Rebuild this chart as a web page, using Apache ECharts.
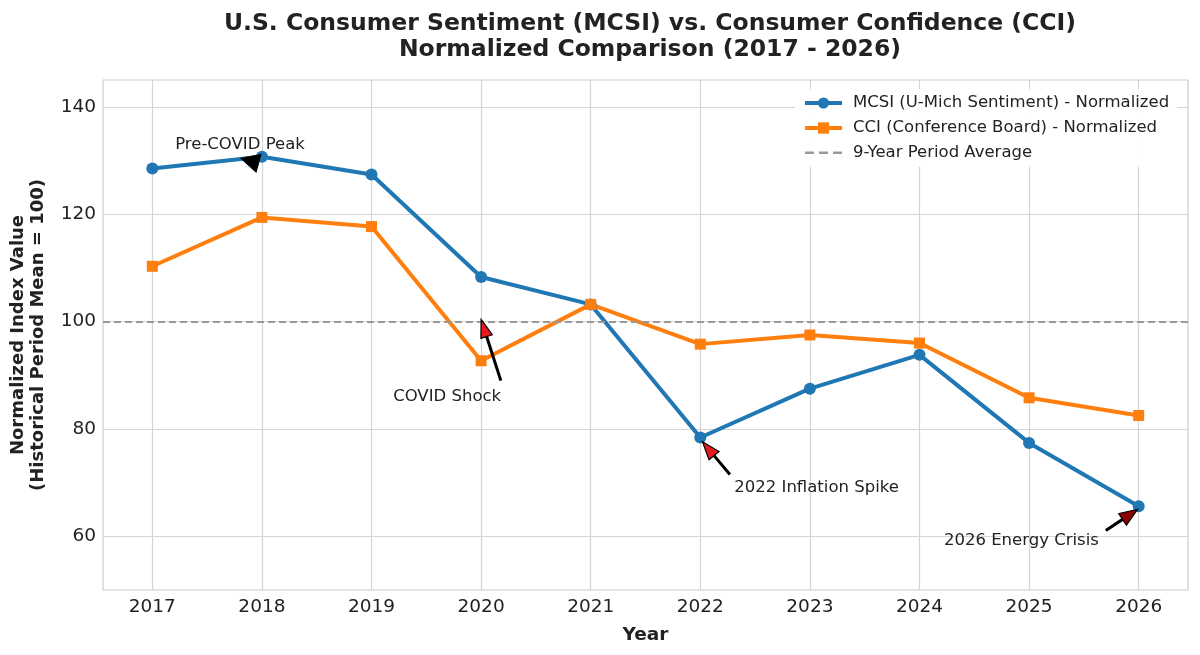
<!DOCTYPE html>
<html>
<head>
<meta charset="utf-8">
<script src="https://cdn.jsdelivr.net/npm/echarts@6/dist/echarts.min.js"></script>
<style>
  html, body { margin: 0; padding: 0; background: #fff; }
  #main { width: 1200px; height: 655px; }
</style>
</head>
<body>
<div id="main"></div>
<script>
// data
var years = [2017, 2018, 2019, 2020, 2021, 2022, 2023, 2024, 2025, 2026];
var mcsi = [128.5, 130.7, 127.4, 108.3, 103.2, 78.4, 87.5, 93.8, 77.4, 65.6];
var cci = [110.3, 119.4, 117.7, 92.7, 103.2, 95.8, 97.5, 96.0, 85.8, 82.5];
var periodAvg = 100;
var yTicks = [60, 80, 100, 120, 140];

// annotations: text pos, arrow tail, arrow tip (data coords), head colour
var notes = [
  {text: 'Pre-COVID Peak', tx: 2017.80, ty: 132.9, align: 'center', x0: 2017.97, y0: 129.5, x1: 2017.81, y1: 130.4, head: '#000000', hw: 9},
  {text: 'COVID Shock', tx: 2019.69, ty: 86.0, align: 'center', x0: 2020.18, y0: 89.0, x1: 2020.0, y1: 100.4, head: '#e41a1c', hw: 6},
  {text: '2022 Inflation Spike', tx: 2022.31, ty: 69.0, align: 'left', x0: 2022.27, y0: 71.5, x1: 2022.02, y1: 77.6, head: '#e41a1c', hw: 6.5},
  {text: '2026 Energy Crisis', tx: 2024.93, ty: 59.1, align: 'center', x0: 2025.70, y0: 61.1, x1: 2025.99, y1: 65.0, head: '#8b0000', hw: 7}
];

var font = 'DejaVu Sans';
var chart = echarts.init(document.getElementById('main'));

function pairs(vals) {
  return years.map(function (y, i) { return [y, vals[i]]; });
}

function drawNote(params, api) {
  var n = notes[params.dataIndex];
  var a = api.coord([n.x0, n.y0]);
  var b = api.coord([n.x1, n.y1]);
  var t = api.coord([n.tx, n.ty]);
  var dx = b[0] - a[0], dy = b[1] - a[1];
  var len = Math.sqrt(dx * dx + dy * dy);
  var ux = dx / len, uy = dy / len;
  var hl = 18, hw = n.hw;
  var bx = b[0] - ux * hl, by = b[1] - uy * hl;
  var head = [
    [b[0], b[1]],
    [bx - uy * hw, by + ux * hw],
    [bx + uy * hw, by - ux * hw]
  ];
  var kids = [];
  if (len > hl) {
    kids.push({type: 'line', shape: {x1: a[0], y1: a[1], x2: bx, y2: by},
      style: {stroke: '#000', lineWidth: 3}});
  }
  kids.push({type: 'polygon', shape: {points: head},
    style: {fill: n.head, stroke: '#000', lineWidth: 1.2}});
  kids.push({type: 'text', x: t[0], y: t[1],
    style: {text: n.text, fill: '#222', font: '16.5px "DejaVu Sans"',
      textAlign: n.align, textVerticalAlign: 'middle'}});
  return {type: 'group', children: kids};
}

chart.setOption({
  animation: false,
  backgroundColor: '#fff',
  textStyle: {fontFamily: font},
  title: {
    text: 'U.S. Consumer Sentiment (MCSI) vs. Consumer Confidence (CCI)\nNormalized Comparison (2017 - 2026)',
    left: 645, top: 6, textAlign: 'center',
    textStyle: {fontFamily: font, fontSize: 23.5, fontWeight: 'bold', color: '#222', lineHeight: 26}
  },
  legend: {
    left: 795, top: 89, orient: 'vertical', itemGap: 5,
    itemWidth: 37, itemHeight: 14,
    backgroundColor: 'rgba(255,255,255,0.92)', borderWidth: 0,
    padding: [4, 8, 4, 8],
    lineStyle: {width: 4},
    textStyle: {fontFamily: font, fontSize: 16.5, color: '#222', lineHeight: 20, padding: [0, 0, 0, 6]},
    data: [
      'MCSI (U-Mich Sentiment) - Normalized',
      'CCI (Conference Board) - Normalized',
      {name: '9-Year Period Average', icon: 'path://M0,5.6h9v2.4h-9z M14,5.6h9v2.4h-9z M28,5.6h9v2.4h-9z M0,0h0.01v14h-0.01z'}
    ]
  },
  grid: {left: 103, right: 12, top: 80, bottom: 65, containLabel: false,
    show: true, borderColor: '#cccccc', borderWidth: 1.2},
  xAxis: {
    type: 'value', min: 2016.55, max: 2026.45,
    name: 'Year', nameLocation: 'middle', nameGap: 36,
    nameTextStyle: {fontFamily: font, fontSize: 18.5, fontWeight: 'bold', color: '#222'},
    axisLine: {show: false},
    axisTick: {show: false, customValues: years},
    axisLabel: {customValues: years, fontSize: 18.5, color: '#222', margin: 8,
      formatter: function (v) { return String(Math.round(v)); }},
    splitLine: {show: true, lineStyle: {color: '#d5d5d5', width: 1.2}}
  },
  yAxis: {
    type: 'value', min: 50, max: 145,
    name: 'Normalized Index Value\n(Historical Period Mean = 100)',
    nameLocation: 'middle', nameGap: 55, nameRotate: 90,
    nameTextStyle: {fontFamily: font, fontSize: 18, fontWeight: 'bold', color: '#222', lineHeight: 20},
    axisLine: {show: false},
    axisTick: {show: false, customValues: yTicks},
    axisLabel: {customValues: yTicks, fontSize: 18.5, color: '#222', margin: 7},
    splitLine: {show: true, lineStyle: {color: '#d5d5d5', width: 1.2}}
  },
  series: [
    {
      name: 'MCSI (U-Mich Sentiment) - Normalized', type: 'line', data: pairs(mcsi),
      color: '#1f77b4', symbol: 'circle', symbolSize: 12,
      lineStyle: {width: 4}, z: 3
    },
    {
      name: 'CCI (Conference Board) - Normalized', type: 'line', data: pairs(cci),
      color: '#ff7f0e', symbol: 'rect', symbolSize: 11,
      lineStyle: {width: 4}, z: 3
    },
    {
      name: '9-Year Period Average', type: 'line', data: [],
      color: '#999999', symbol: 'none',
      lineStyle: {width: 2, type: [7, 4]},
      markLine: {
        silent: true, symbol: 'none', label: {show: false},
        lineStyle: {color: '#999999', width: 2, type: [7, 4]},
        data: [{yAxis: periodAvg}]
      }
    },
    {
      type: 'custom', renderItem: drawNote, silent: true, z: 5,
      data: notes.map(function (n) { return [n.x1, n.y1]; })
    }
  ]
});
</script>
</body>
</html>
